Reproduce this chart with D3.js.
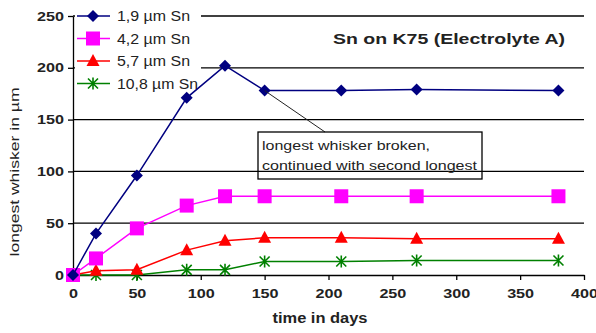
<!DOCTYPE html>
<html>
<head>
<meta charset="utf-8">
<script src="https://cdn.jsdelivr.net/npm/d3@7"></script>
<style>
    body { margin: 0; background: #fff; }
    svg { font-family: "Liberation Sans", Arial, sans-serif; }
</style>
</head>
<body>
<svg id="chart" width="596" height="333"></svg>
<script>
"use strict";

// Days of measurement
const days = [0, 18, 50, 89, 119, 150, 210, 269, 380];

// Longest whisker length (µm) per Sn thickness
const sn19 = [0, 40, 96, 171, 202, 178, 178, 179, 178];
const sn42 = [0, 16, 45, 67, 76, 76, 76, 76, 76];
const sn57 = [0, 4, 5, 24, 33, 36, 36, 35, 35];
const sn108 = [0, 0, 0, 5, 5, 13, 13, 14, 14];

const seriesNames = ["1,9 µm Sn", "4,2 µm Sn", "5,7 µm Sn", "10,8 µm Sn"];
const xTicks = [0, 50, 100, 150, 200, 250, 300, 350, 400];
const yTicks = [0, 50, 100, 150, 200, 250];

const series = [
    {name: seriesNames[0], values: sn19, color: "#000080", marker: "diamond"},
    {name: seriesNames[1], values: sn42, color: "#ff00ff", marker: "square"},
    {name: seriesNames[2], values: sn57, color: "#ff0000", marker: "triangle"},
    {name: seriesNames[3], values: sn108, color: "#008000", marker: "star"}
];

const margin = {top: 16, right: 12, bottom: 58, left: 73},
    width = 596 - margin.left - margin.right,
    height = 333 - margin.top - margin.bottom;

// the original text is drawn wide, so stretch it to the measured widths
function stretch(sel, w) {
    return sel.attr("textLength", w).attr("lengthAdjust", "spacingAndGlyphs");
}

const svg = d3.select("#chart");
const plot = svg.append("g")
    .attr("transform", "translate(" + margin.left + "," + margin.top + ")");

const x = d3.scaleLinear().domain([0, 400]).range([0, width]);
const y = d3.scaleLinear().domain([0, 250]).range([height, 0]);

// horizontal gridlines
plot.append("g")
    .selectAll("line")
    .data(yTicks.filter((d) => d > 0))
    .join("line")
    .attr("x1", 0).attr("x2", width)
    .attr("y1", (d) => y(d)).attr("y2", (d) => y(d))
    .attr("stroke", "#000").attr("stroke-width", 1.3);

// axes
const xAxis = plot.append("g")
    .attr("transform", "translate(0," + height + ")")
    .call(d3.axisBottom(x).tickValues(xTicks).tickSize(5).tickPadding(9).tickSizeOuter(0));
const yAxis = plot.append("g")
    .call(d3.axisLeft(y).tickValues(yTicks).tickSize(5).tickPadding(4).tickSizeOuter(0));
[xAxis, yAxis].forEach((a) => {
    a.select(".domain").attr("stroke", "#000").attr("stroke-width", 1.3);
    a.selectAll(".tick line").attr("stroke", "#000").attr("stroke-width", 1.3);
    a.selectAll(".tick text")
        .attr("fill", "#222")
        .style("font-size", "13px")
        .style("font-weight", "bold")
        .attr("textLength", (d) => String(d).length * 9)
        .attr("lengthAdjust", "spacingAndGlyphs");
});

// legend background hides the gridlines behind it
const legend = plot.append("g").attr("transform", "translate(2,-9)");
legend.append("rect")
    .attr("x", 0).attr("y", 0).attr("width", 126).attr("height", 82)
    .attr("fill", "#fff");

function drawMarker(g, type, color) {
    switch (type) {
        case "diamond":
            g.append("path").attr("d", "M0,-6L6,0L0,6L-6,0Z").attr("fill", color);
            break;
        case "square":
            g.append("rect").attr("x", -7).attr("y", -7).attr("width", 14).attr("height", 14).attr("fill", color);
            break;
        case "triangle":
            g.append("path").attr("d", "M0,-7L6.5,5L-6.5,5Z").attr("fill", color);
            break;
        case "star":
            g.append("path")
                .attr("d", "M-5,-5L5,5M-5,5L5,-5M0,-6L0,6")
                .attr("stroke", color).attr("stroke-width", 1.6).attr("fill", "none");
            break;
    }
}

const line = d3.line()
    .x((d, i) => x(days[i]))
    .y((d) => y(d));

// draw series in reverse so the thin line is on top as in the reference
series.slice().reverse().forEach((s) => {
    const g = plot.append("g");
    g.append("path")
        .datum(s.values)
        .attr("d", line)
        .attr("fill", "none")
        .attr("stroke", s.color)
        .attr("stroke-width", 1.5);
    s.values.forEach((v, i) => {
        drawMarker(g.append("g").attr("transform", `translate(${x(days[i])},${y(v)})`), s.marker, s.color);
    });
});

// legend entries
const legendWidths = [73, 73, 73, 81];
series.forEach((s, i) => {
    const row = legend.append("g").attr("transform", `translate(0,${9 + i * 22.5})`);
    row.append("line")
        .attr("x1", 2).attr("x2", 35)
        .attr("stroke", s.color).attr("stroke-width", 1.5);
    drawMarker(row.append("g").attr("transform", "translate(18,0)"), s.marker, s.color);
    stretch(row.append("text")
        .attr("x", 42).attr("y", 5)
        .style("font-size", "14px").attr("fill", "#222")
        .text(s.name), legendWidths[i]);
});

// annotation with leader line
plot.append("line")
    .attr("x1", x(days[5])).attr("y1", y(sn19[5]))
    .attr("x2", 252).attr("y2", 116)
    .attr("stroke", "#222").attr("stroke-width", 1);
plot.append("rect")
    .attr("x", 185).attr("y", 116)
    .attr("width", 224).attr("height", 47)
    .attr("fill", "none").attr("stroke", "#000").attr("stroke-width", 1.3);
stretch(plot.append("text")
    .attr("x", 189).attr("y", 134)
    .style("font-size", "12.5px").attr("fill", "#222")
    .text("longest whisker broken,"), 168);
stretch(plot.append("text")
    .attr("x", 189).attr("y", 154)
    .style("font-size", "12.5px").attr("fill", "#222")
    .text("continued with second longest"), 215);

// title
stretch(svg.append("text")
    .attr("x", 333).attr("y", 44)
    .style("font-size", "15px").style("font-weight", "bold").attr("fill", "#222")
    .text("Sn on K75 (Electrolyte A)"), 232);

// axis titles
stretch(svg.append("text")
    .attr("x", 320).attr("y", 323)
    .attr("text-anchor", "middle")
    .style("font-size", "14px").style("font-weight", "bold").attr("fill", "#222")
    .text("time in days"), 95);
stretch(svg.append("text")
    .attr("transform", "translate(19,172) rotate(-90)")
    .attr("text-anchor", "middle")
    .style("font-size", "13px").attr("fill", "#222")
    .text("longest whisker in µm"), 169);
</script>
</body>
</html>
